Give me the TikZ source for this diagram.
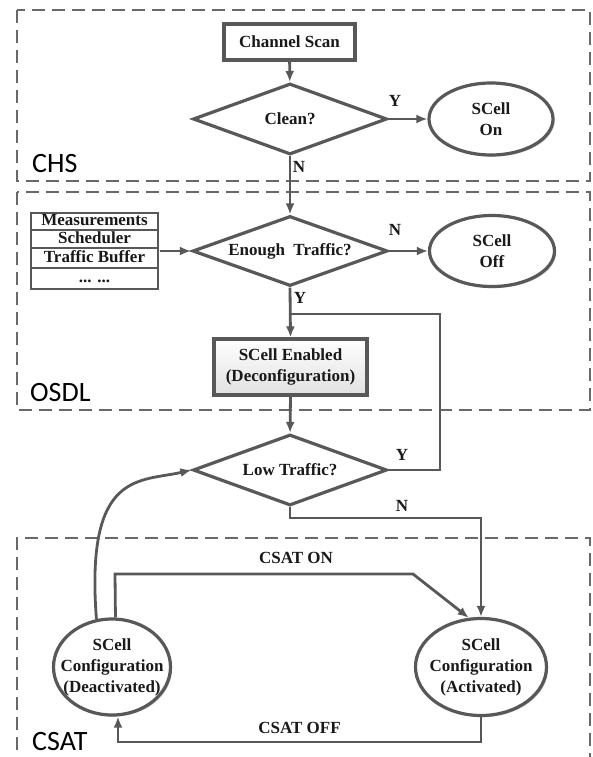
\documentclass[tikz,border=0pt]{standalone}
\usepackage{fontspec}
\setmainfont{Liberation Serif}
\newfontfamily\zonefont{Carlito}
\usetikzlibrary{shapes.geometric, arrows.meta, shadows, fit}

\definecolor{linegray}{RGB}{88,88,88}
\definecolor{dashgray}{RGB}{105,105,105}
\definecolor{inkdark}{RGB}{25,25,25}

\begin{document}
\begin{tikzpicture}[x=1pt, y=-1pt,
  lbl/.style={font=\fontsize{17}{21}\selectfont\bfseries, text=inkdark},
  softshadow/.style={drop shadow={shadow xshift=1.6pt, shadow yshift=-1.6pt, opacity=0.22, fill=black}},
  stepbox/.style={rectangle, draw=linegray, line width=3.2pt, fill=white, inner sep=0pt, lbl, softshadow},
  listrow/.style={rectangle, draw=linegray, line width=2.8pt, fill=white, inner sep=0pt, lbl,
                  minimum width=127pt, text height=11pt, text depth=3pt},
  decision/.style={diamond, aspect=2.73, draw=linegray, line width=3.2pt, fill=white, inner sep=0pt,
                   minimum width=194pt, minimum height=71pt, lbl},
  state/.style={ellipse, draw=linegray, line width=3.2pt, fill=white, inner sep=0pt, softshadow},
  inside/.style={label={[lbl, align=center]center:#1}},
  conn/.style={draw=linegray, line width=2.8pt, -{Latex[length=11pt, width=9pt]}},
  plain/.style={draw=linegray, line width=2.8pt},
  zone/.style={draw=dashgray, line width=2.2pt, dash pattern=on 13pt off 7pt},
  zonetag/.style={anchor=base west, font=\zonefont\fontsize{28}{28}\selectfont, text=black, inner sep=0pt},
]
\useasboundingbox[fill=white] (0,0) rectangle (592,757);

% ---- dashed regions ----
\draw[zone] (17,10) rectangle (590,181);
\draw[zone] (17,192) rectangle (590,410);
\draw[zone] (17,770) -- (17,538) -- (590,538) -- (590,770);
\node[zonetag] (chstag)  at (32,172) {CHS};
\node[zonetag] (osdltag) at (30,401) {OSDL};
\node[zonetag] (csattag) at (32,750) {CSAT};

% ---- CHS: channel scan ----
\node[stepbox, minimum width=131pt, minimum height=36pt] (scan) at (289.5,42) {Channel Scan};
\node[decision] (clean) at (290,119) {Clean?};
\node[state, minimum width=124pt, minimum height=72pt, inside={SCell\\On}] (son) at (491,119) {};

% ---- OSDL: traffic check ----
\node[listrow, minimum height=17pt] (meas)  at (94.5,221.5) {Measurements};
\node[listrow, minimum height=18pt] (sched) at (94.5,239)   {Scheduler};
\node[listrow, minimum height=20pt] (tbuf)  at (94.5,258)   {Traffic Buffer};
\node[listrow, minimum height=21pt] (more)  at (94.5,278.5) {... ...};
\node[fit=(meas)(more), inner sep=0pt] (inputs) {};
\node[decision, minimum width=195pt, minimum height=70pt] (enough) at (290,251) {Enough\ \ Traffic?};
\node[state, minimum width=125pt, minimum height=71pt, inside={SCell\\Off}] (soff) at (492,251) {};
\node[stepbox, minimum width=153pt, minimum height=56pt, align=center,
      top color=white, bottom color=black!12] (enabled) at (290.5,367) {SCell Enabled\\(Deconfiguration)};

% ---- low traffic check ----
\node[decision] (low) at (290,470) {Low Traffic?};

% ---- CSAT: configured states ----
\node[state, minimum width=117pt, minimum height=96pt,
      inside={SCell\\Configuration\\(Deactivated)}] (deact) at (112,667) {};
\node[state, minimum width=131pt, minimum height=97pt,
      inside={SCell\\Configuration\\(Activated)}] (act) at (481,667) {};

% ---- bend points ----
\coordinate (join)  at (290,314);
\coordinate (yup)   at (440,314);
\coordinate (yout)  at (440,470);
\coordinate (ndown) at (290,518);
\coordinate (nover) at (481,518);
\coordinate (onup)  at (115,574);
\coordinate (onrun) at (413,574);
\coordinate (offa)  at (481,742);
\coordinate (offb)  at (118,742);

% ---- connectors ----
\draw[conn] (scan) -- (clean);
\draw[conn] (clean.east) -- (son.west);
\draw[conn] (clean.south) -- (enough.north);
\draw[conn] (inputs.east) -- (enough.west);
\draw[conn] (enough.east) -- (soff.west);
\draw[conn] (enough.south) -- (enabled.north);
\draw[conn] (enabled.south) -- (low.north);
\draw[plain] (low.east) -- (yout) -- (yup) -- (join);
\draw[conn] (low.south) -- (ndown) -- (nover) -- (act.north);
\draw[conn] (deact.86) -- (onup) -- (onrun) -- (act.104);
\draw[conn] (act.south) -- (offa) -- (offb) -- (offb |- deact.south);
\draw[conn] (deact.108) .. controls (85,470) and (140,482) .. (low.west);

% ---- branch labels ----
\node[lbl] (ycln) at (395,101) {Y};
\node[lbl] (ncln) at (299,167) {N};
\node[lbl] (nenf) at (395,230) {N};
\node[lbl] (yenf) at (300,298) {Y};
\node[lbl] (ylow) at (402,455) {Y};
\node[lbl] (nlow) at (402,506) {N};
\node[lbl] (csaton)  at (296,558) {CSAT ON};
\node[lbl] (csatoff) at (299.5,728) {CSAT OFF};
\end{tikzpicture}
\end{document}
